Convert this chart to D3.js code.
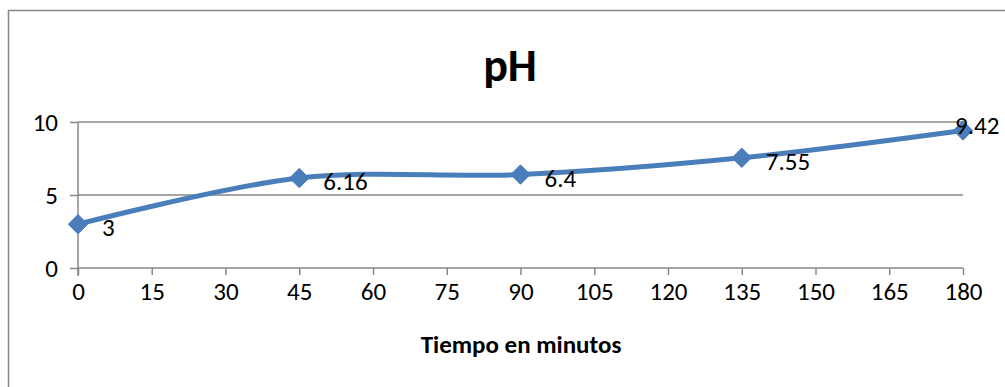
<!DOCTYPE html>
<html>
<head>
<meta charset="utf-8">
<script src="https://cdn.jsdelivr.net/npm/d3@7"></script>
<style>
  body { margin: 0; background: #fff; }
  svg { display: block; font-family: Carlito, Lato, "Open Sans", sans-serif; }
</style>
</head>
<body>
<div id="chart"></div>
<script>
// chart data
const minutes = [0, 45, 90, 135, 180];
const phValues = [3, 6.16, 6.4, 7.55, 9.42];
const xTicks = [0, 15, 30, 45, 60, 75, 90, 105, 120, 135, 150, 165, 180];
const yTicks = [0, 5, 10];

const W = 1005, H = 387;
const margin = { top: 122, right: 42, bottom: 119, left: 78 };
const width = W - margin.left - margin.right;
const height = H - margin.top - margin.bottom;
const font = 'Carlito, Lato, sans-serif';

const svg = d3.select('#chart')
    .append('svg')
    .attr('width', W)
    .attr('height', H);

// outer chart frame (runs off the right and bottom)
svg.append('rect')
    .attr('x', 8.5).attr('y', 10.5)
    .attr('width', W + 10).attr('height', H + 10)
    .attr('fill', 'none')
    .attr('stroke', '#888')
    .attr('stroke-width', 1.5);

const g = svg.append('g')
    .attr('transform', `translate(${margin.left},${margin.top})`);

const x = d3.scaleLinear().domain([0, 180]).range([0, width]);
const y = d3.scaleLinear().domain([0, 10]).range([height, 0]);

// horizontal gridlines
g.append('g')
    .selectAll('line')
    .data(yTicks.filter(d => d > 0))
    .enter().append('line')
    .attr('x1', 0).attr('x2', width)
    .attr('y1', d => y(d)).attr('y2', d => y(d))
    .attr('stroke', '#888')
    .attr('stroke-width', 1.5);

// y axis
const yAxis = g.append('g')
    .call(d3.axisLeft(y).tickValues(yTicks).tickSize(8).tickPadding(12));
yAxis.select('.domain').attr('stroke', '#888').attr('stroke-width', 1.5)
    .attr('d', `M0,${height + 8}V0`);
yAxis.selectAll('.tick line').attr('stroke', '#888').attr('stroke-width', 1.5);
yAxis.selectAll('text').attr('font-size', 25).attr('fill', '#000')
    .attr('font-family', font);

// x axis
const xAxis = g.append('g')
    .attr('transform', `translate(0,${height})`)
    .call(d3.axisBottom(x).tickValues(xTicks).tickSize(7).tickPadding(7));
xAxis.select('.domain').attr('stroke', '#888').attr('stroke-width', 1.5)
    .attr('d', `M0,0H${width}`);
xAxis.selectAll('.tick line').attr('stroke', '#888').attr('stroke-width', 1.5);
xAxis.selectAll('text').attr('font-size', 25).attr('fill', '#000')
    .attr('font-family', font);

const pts = minutes.map((m, i) => ({ m: m, v: phValues[i] }));

// smoothed series line
const line = d3.line()
    .x(d => x(d.m))
    .y(d => y(d.v))
    .curve(d3.curveCatmullRom.alpha(0.5));

g.append('path')
    .datum(pts)
    .attr('d', line)
    .attr('fill', 'none')
    .attr('stroke', '#4a7ebb')
    .attr('stroke-width', 5)
    .attr('stroke-linejoin', 'round');

// diamond markers
g.selectAll('.marker')
    .data(pts)
    .enter().append('path')
    .attr('class', 'marker')
    .attr('transform', d => `translate(${x(d.m)},${y(d.v)})`)
    .attr('d', d3.symbol().type(d3.symbolDiamond2).size(240))
    .attr('fill', '#4a7ebb')
    .attr('stroke', '#4a7ebb')
    .attr('stroke-width', 1);

// data labels (last one sits over its marker, as in the original)
g.selectAll('.lbl')
    .data(pts)
    .enter().append('text')
    .attr('class', 'lbl')
    .attr('x', d => x(d.m) + 24)
    .attr('y', d => y(d.v) + 12)
    .attr('dx', (d, i) => i === pts.length - 1 ? -32 : 0)
    .attr('dy', (d, i) => i === pts.length - 1 ? -8 : 0)
    .attr('font-size', 25)
    .attr('font-family', font)
    .text(d => d.v);

// title
svg.append('text')
    .attr('x', 510).attr('y', 81)
    .attr('text-anchor', 'middle')
    .attr('font-size', 46)
    .attr('font-weight', 'bold')
    .attr('font-family', font)
    .text('pH');

// x axis title
svg.append('text')
    .attr('x', 521).attr('y', 353)
    .attr('text-anchor', 'middle')
    .attr('font-size', 25)
    .attr('font-weight', 'bold')
    .attr('font-family', font)
    .text('Tiempo en minutos');
</script>
</body>
</html>
